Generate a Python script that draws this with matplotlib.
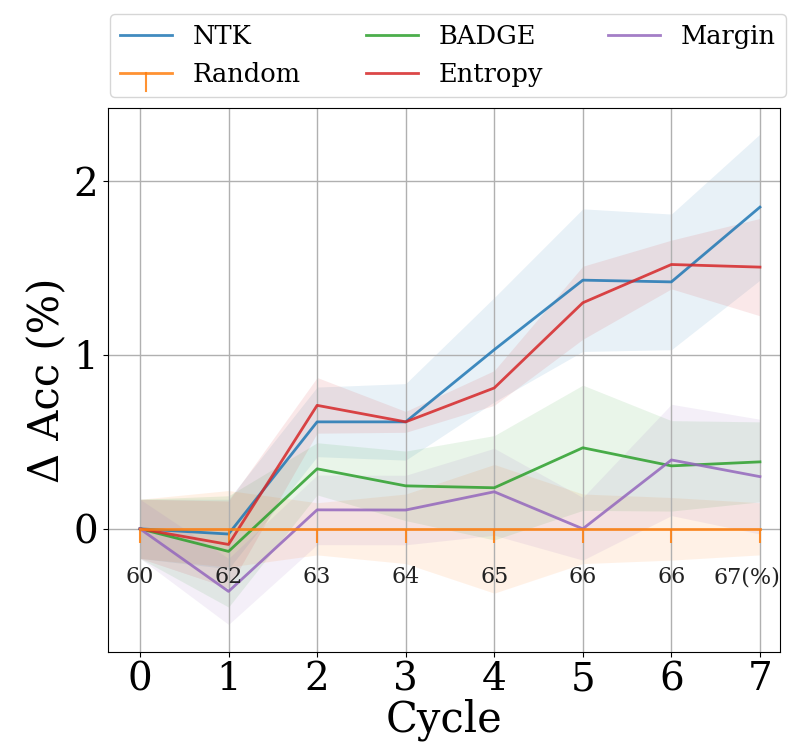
import matplotlib
matplotlib.use("Agg")
import matplotlib.pyplot as plt
from matplotlib.lines import Line2D
from matplotlib.legend_handler import HandlerBase
import matplotlib.transforms as mtransforms
import numpy as np

plt.rcParams['font.family'] = ['DejaVu Serif']

cycles = [0, 1, 2, 3, 4, 5, 6, 7]
acc_labels = ["60", "62", "63", "64", "65", "66", "66", "67(%)"]

ntk = [0.0, -0.03, 0.615, 0.615, 1.03, 1.43, 1.42, 1.85]
ntk_std = [0.17, 0.20, 0.20, 0.22, 0.30, 0.41, 0.39, 0.42]
random_ = [0, 0, 0, 0, 0, 0, 0, 0]
random_std = [0.17, 0.22, 0.15, 0.20, 0.37, 0.20, 0.18, 0.15]
random_err = [0.08, 0.08, 0.08, 0.08, 0.08, 0.08, 0.08, 0.08]
badge = [0.0, -0.13, 0.345, 0.247, 0.236, 0.466, 0.362, 0.385]
badge_std = [0.17, 0.32, 0.15, 0.20, 0.30, 0.36, 0.26, 0.23]
entropy = [0.0, -0.09, 0.71, 0.615, 0.81, 1.30, 1.52, 1.505]
entropy_std = [0.17, 0.25, 0.16, 0.06, 0.10, 0.21, 0.14, 0.28]
margin = [0.0, -0.36, 0.109, 0.108, 0.213, 0.0, 0.396, 0.30]
margin_std = [0.17, 0.19, 0.20, 0.20, 0.25, 0.18, 0.32, 0.33]

fig = plt.figure(figsize=(7.89, 7.5), dpi=100)
ax = fig.add_axes([0.137, 0.131, 0.852, 0.725])

C = {'NTK': '#1f77b4', 'Random': '#ff7f0e', 'BADGE': '#2ca02c',
     'Entropy': '#d62728', 'Margin': '#9467bd'}
LA = 0.85

x = np.array(cycles)

def band(vals, std, c):
    v = np.array(vals); s = np.array(std)
    ax.fill_between(x, v - s, v + s, color=c, alpha=0.1, linewidth=0)

band(ntk, ntk_std, C['NTK'])
band(random_, random_std, C['Random'])
band(badge, badge_std, C['BADGE'])
band(entropy, entropy_std, C['Entropy'])
band(margin, margin_std, C['Margin'])

h_ntk, = ax.plot(x, ntk, color=C['NTK'], lw=2, alpha=LA, label='NTK')
ax.errorbar(x, random_, yerr=[random_err, [0]*8], color=C['Random'],
            lw=2, elinewidth=1.5, alpha=LA)
h_rand = Line2D([], [], color=C['Random'], lw=2, alpha=LA, label='Random')
h_badge, = ax.plot(x, badge, color=C['BADGE'], lw=2, alpha=LA, label='BADGE')
h_ent, = ax.plot(x, entropy, color=C['Entropy'], lw=2, alpha=LA, label='Entropy')
h_mar, = ax.plot(x, margin, color=C['Margin'], lw=2, alpha=LA, label='Margin')


class HalfErr(HandlerBase):
    def create_artists(self, legend, orig_handle, xdescent, ydescent,
                       width, height, fontsize, trans):
        yc = height / 2 - ydescent
        l1 = Line2D([-xdescent, width - xdescent], [yc, yc],
                    color=orig_handle.get_color(), lw=2, alpha=LA)
        xm = width / 2 - xdescent
        l2 = Line2D([xm, xm], [yc, yc - 0.7 * fontsize],
                    color=orig_handle.get_color(), lw=1.5, alpha=LA)
        l1.set_transform(trans); l2.set_transform(trans)
        return [l1, l2]


for xi, t in zip(cycles[:-1], acc_labels[:-1]):
    ax.text(xi, -0.28, t, ha='center', va='center', fontsize=16, color='#222222')
last_tr = mtransforms.blended_transform_factory(ax.transAxes, ax.transData)
ax.text(1.0, -0.28, acc_labels[-1], ha='right', va='center', fontsize=16,
        color='#222222', transform=last_tr)

ax.set_xlim(-0.36, 7.23)
ax.set_ylim(-0.707, 2.42)
ax.set_xticks(cycles)
ax.set_yticks([0, 1, 2])
ax.tick_params(labelsize=28)
ax.grid(True, color='#b0b0b0', lw=1)
ax.set_xlabel('Cycle', fontsize=30, labelpad=0)
ax.set_ylabel('Δ Acc (%)', fontsize=30)

ax.legend(handles=[h_ntk, h_rand, h_badge, h_ent, h_mar],
          handler_map={h_rand: HalfErr()},
          loc='lower left', bbox_to_anchor=(0.003, 1.02, 1.005, 0.1),
          mode='expand', ncol=3, borderaxespad=0,
          fontsize=18.5, frameon=True, handlelength=2.0, labelspacing=0.5)

fig.savefig('out.png', dpi=100)
